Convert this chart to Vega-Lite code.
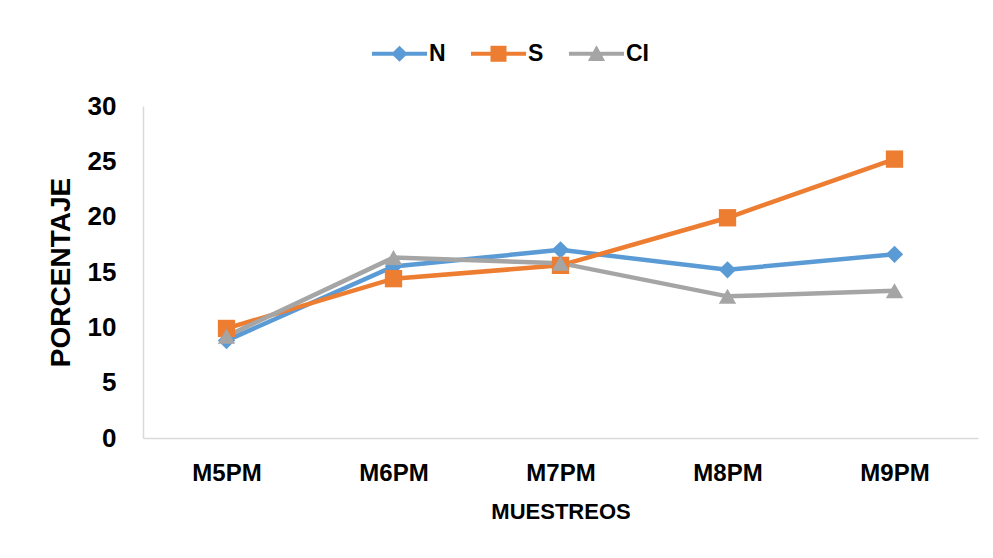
{
  "$schema": "https://vega.github.io/schema/vega-lite/v6.json",
  "width": 835,
  "height": 332,
  "autosize": "none",
  "padding": {"left": 143, "top": 106, "right": 15, "bottom": 120},
  "background": "white",
  "config": {"view": {"stroke": null}, "font": "Liberation Sans"},
  "data": {
    "values": [
      {"muestreo": "M5PM", "serie": "N", "valor": 8.8},
      {"muestreo": "M6PM", "serie": "N", "valor": 15.5},
      {"muestreo": "M7PM", "serie": "N", "valor": 17.0},
      {"muestreo": "M8PM", "serie": "N", "valor": 15.2},
      {"muestreo": "M9PM", "serie": "N", "valor": 16.6},
      {"muestreo": "M5PM", "serie": "S", "valor": 9.9},
      {"muestreo": "M6PM", "serie": "S", "valor": 14.4},
      {"muestreo": "M7PM", "serie": "S", "valor": 15.6},
      {"muestreo": "M8PM", "serie": "S", "valor": 19.9},
      {"muestreo": "M9PM", "serie": "S", "valor": 25.2},
      {"muestreo": "M5PM", "serie": "CI", "valor": 9.2},
      {"muestreo": "M6PM", "serie": "CI", "valor": 16.3},
      {"muestreo": "M7PM", "serie": "CI", "valor": 15.8},
      {"muestreo": "M8PM", "serie": "CI", "valor": 12.8},
      {"muestreo": "M9PM", "serie": "CI", "valor": 13.3}
    ]
  },
  "encoding": {
    "x": {
      "field": "muestreo",
      "type": "ordinal",
      "sort": ["M5PM", "M6PM", "M7PM", "M8PM", "M9PM"],
      "scale": {"type": "point", "padding": 0.5},
      "axis": {
        "title": "MUESTREOS",
        "titleFontSize": 22,
        "titleFontWeight": "bold",
        "titleColor": "#000000",
        "titlePadding": 16,
        "labelFontSize": 24,
        "labelFontWeight": "bold",
        "labelColor": "#000000",
        "labelPadding": 23,
        "labelAngle": 0,
        "ticks": false,
        "grid": false,
        "domainColor": "#d9d9d9",
        "domainWidth": 1.5
      }
    },
    "y": {
      "field": "valor",
      "type": "quantitative",
      "scale": {"domain": [0, 30], "nice": false},
      "axis": {
        "title": "PORCENTAJE",
        "titleFontSize": 28,
        "titleFontWeight": "bold",
        "titleColor": "#000000",
        "titlePadding": 12,
        "values": [0, 5, 10, 15, 20, 25, 30],
        "labelFontSize": 26,
        "labelFontWeight": "bold",
        "labelColor": "#000000",
        "labelPadding": 27,
        "ticks": false,
        "grid": false,
        "domainColor": "#d9d9d9",
        "domainWidth": 1.5
      }
    },
    "color": {
      "field": "serie",
      "type": "nominal",
      "sort": ["N", "S", "CI"],
      "scale": {"domain": ["N", "S", "CI"], "range": ["#5B9BD5", "#ED7D31", "#A5A5A5"]},
      "legend": {
        "title": null,
        "orient": "none",
        "direction": "horizontal",
        "legendX": 245,
        "legendY": -64,
        "padding": 0,
        "symbolSize": 324,
        "symbolStrokeWidth": 0,
        "symbolOpacity": 1,
        "labelOffset": 18,
        "columnPadding": 24,
        "labelFontSize": 23,
        "labelFontWeight": "bold",
        "labelColor": "#000000",
        "encode": {
          "symbols": {
            "update": {
              "shape": {"signal": "datum.value === 'N' ? 'M-3.06,-0.22L-0.68,-0.22L0,-0.9L0.68,-0.22L3.06,-0.22L3.06,0.22L0.68,0.22L0,0.9L-0.68,0.22L-3.06,0.22Z' : datum.value === 'S' ? 'M-3.06,-0.22L-0.89,-0.22L-0.89,-0.89L0.89,-0.89L0.89,-0.22L3.06,-0.22L3.06,0.22L0.89,0.22L0.89,0.89L-0.89,0.89L-0.89,0.22L-3.06,0.22Z' : 'M-3.06,-0.22L-0.4,-0.22L0,-0.95L0.4,-0.22L3.06,-0.22L3.06,0.22L0.64,0.22L0.95,0.8L-0.95,0.8L-0.64,0.22L-3.06,0.22Z'"},
              "fill": {"signal": "scale('color', datum.value)"},
              "fillOpacity": {"value": 1},
              "opacity": {"value": 1},
              "strokeWidth": {"value": 0}
            }
          }
        }
      }
    }
  },
  "layer": [
    {
      "mark": {"type": "line", "strokeWidth": 4.5},
      "encoding": {"detail": {"field": "serie"}}
    },
    {
      "mark": {"type": "point", "filled": true, "opacity": 1, "size": 300},
      "encoding": {
        "shape": {
          "field": "serie",
          "type": "nominal",
          "scale": {"domain": ["CI", "N", "S"], "range": ["triangle-up", "diamond", "square"]},
          "legend": null
        }
      }
    }
  ]
}
